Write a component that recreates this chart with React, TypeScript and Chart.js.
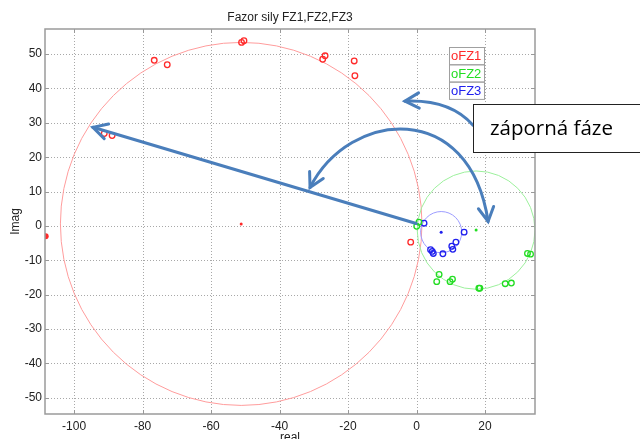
import React, { useEffect, useRef } from "react";
import { Chart, registerables } from "chart.js";
Chart.register(...registerables);

const xTicks = [-100, -80, -60, -40, -20, 0, 20];
const yTicks = [-50, -40, -30, -20, -10, 0, 10, 20, 30, 40, 50];

const fz1Real = [-76.6, -72.8, -51.1, -50.4, -27.4, -26.7, -18.2, -18.0, -91.2, -88.9, -1.7];
const fz1Imag = [48.2, 46.9, 53.4, 53.9, 48.5, 49.5, 48.0, 43.7, 26.9, 26.3, -4.7];
const fz2Real = [0.7, 0.05, 6.6, 5.9, 9.8, 10.5, 18.2, 18.5, 25.9, 27.7, 32.4, 33.3];
const fz2Imag = [1.1, -0.1, -14.1, -16.2, -16.2, -15.5, -18.1, -18.1, -16.8, -16.6, -8.0, -8.2];
const fz3Real = [2.2, 13.9, 11.5, 10.3, 10.6, 7.7, 4.1, 4.6, 4.9];
const fz3Imag = [0.8, -1.8, -4.7, -5.9, -6.8, -8.1, -6.9, -7.4, -8.0];
const centerReal = [-51.2, 17.4, 7.2];
const centerImag = [0.6, -1.2, -1.8];
const circleRadius = [52.8, 17.2, 6.0];
const edgeReal = [-108.3];
const edgeImag = [-3.0];
const seriesNames = ["oFZ1", "oFZ2", "oFZ3"];
const titleText = "Fazor sily FZ1,FZ2,FZ3";
const xLabel = "real";
const yLabel = "Imag";
const noteText = "záporná fáze";

// annotation arrows in data coordinates
const arrowStraight = [[-0.1, 0.7], [-94.5, 28.7]];
const arcBig = [[-31.1, 11.2], [-19.4, 34.0], [15.6, 36.9], [20.9, 1.3]];
const arcSmall = [[16.5, 29.3], [9.8, 36.9], [-3.4, 36.3]];

const markerColors = ["#ff2a2a", "#22dd22", "#2020ee"];
const circleColors = ["#ff9c9c", "#9cf09c", "#9c9cff"];

const pts = (xs: number[], ys: number[]) => xs.map((x, i) => ({ x, y: ys[i] }));

const FONT = "'Liberation Sans', Arial, sans-serif";

const decor = {
  id: "decor",
  beforeDatasetsDraw(chart: any) {
    const { ctx, chartArea: a, scales } = chart;
    const sx = (v: number) => scales.x.getPixelForValue(v);
    const sy = (v: number) => scales.y.getPixelForValue(v);
    ctx.save();
    ctx.strokeStyle = "#a8a8a8";
    ctx.lineWidth = 1;
    ctx.setLineDash([1, 2]);
    xTicks.forEach((v) => {
      const p = Math.round(sx(v)) + 0.5;
      ctx.beginPath(); ctx.moveTo(p, a.top); ctx.lineTo(p, a.bottom); ctx.stroke();
    });
    yTicks.forEach((v) => {
      const p = Math.round(sy(v)) + 0.5;
      ctx.beginPath(); ctx.moveTo(a.left, p); ctx.lineTo(a.right, p); ctx.stroke();
    });
    ctx.setLineDash([]);
    ctx.strokeStyle = "#999";
    xTicks.forEach((v) => {
      const p = Math.round(sx(v)) + 0.5;
      ctx.beginPath(); ctx.moveTo(p, a.top); ctx.lineTo(p, a.top + 4); ctx.stroke();
      ctx.beginPath(); ctx.moveTo(p, a.bottom); ctx.lineTo(p, a.bottom - 4); ctx.stroke();
    });
    yTicks.forEach((v) => {
      const p = Math.round(sy(v)) + 0.5;
      ctx.beginPath(); ctx.moveTo(a.left, p); ctx.lineTo(a.left + 4, p); ctx.stroke();
      ctx.beginPath(); ctx.moveTo(a.right, p); ctx.lineTo(a.right - 4, p); ctx.stroke();
    });
    ctx.beginPath();
    ctx.rect(a.left, a.top, a.right - a.left, a.bottom - a.top);
    ctx.clip();
    centerReal.forEach((cx, i) => {
      const px = sx(cx), py = sy(centerImag[i]);
      const rx = Math.abs(sx(cx + circleRadius[i]) - px);
      const ry = Math.abs(sy(centerImag[i] + circleRadius[i]) - py);
      ctx.strokeStyle = circleColors[i];
      ctx.lineWidth = 1;
      ctx.beginPath();
      ctx.ellipse(px, py, rx, ry, 0, 0, Math.PI * 2);
      ctx.stroke();
    });
    ctx.restore();
  },
  afterDraw(chart: any) {
    const { ctx, chartArea: a, scales } = chart;
    const sx = (v: number) => scales.x.getPixelForValue(v);
    const sy = (v: number) => scales.y.getPixelForValue(v);
    const P = (p: number[]) => [sx(p[0]), sy(p[1])];
    ctx.save();
    ctx.strokeStyle = "#9a9a9a";
    ctx.lineWidth = 1.5;
    ctx.strokeRect(a.left, a.top, a.right - a.left, a.bottom - a.top);

    ctx.fillStyle = "#222";
    ctx.font = `12px ${FONT}`;
    ctx.textAlign = "center";
    ctx.textBaseline = "middle";
    ctx.fillText(titleText, (a.left + a.right) / 2, 18);
    ctx.fillText(xLabel, (a.left + a.right) / 2, 438);
    ctx.save();
    ctx.translate(16, (a.top + a.bottom) / 2);
    ctx.rotate(-Math.PI / 2);
    ctx.fillText(yLabel, 0, 0);
    ctx.restore();

    const lx = 449, ly = 47, lw = 35, rh = 17.3;
    ctx.fillStyle = "#fff";
    ctx.fillRect(lx, ly, lw, rh * 3);
    ctx.strokeStyle = "#a0a0a0";
    ctx.lineWidth = 1;
    ctx.font = `13px ${FONT}`;
    ctx.textAlign = "left";
    seriesNames.forEach((n, i) => {
      ctx.strokeRect(lx + 0.5, ly + i * rh + 0.5, lw, rh);
      ctx.fillStyle = markerColors[i];
      ctx.fillText(n, lx + 2, ly + i * rh + rh / 2 + 1);
    });

    const col = "#4a7ebb";
    ctx.strokeStyle = col;
    ctx.lineWidth = 3;
    ctx.lineCap = "round";
    const head = (tip: number[], from: number[]) => {
      const ang = Math.atan2(from[1] - tip[1], from[0] - tip[0]);
      const L = 16, s = 0.5;
      ctx.beginPath();
      ctx.moveTo(tip[0] + L * Math.cos(ang - s), tip[1] + L * Math.sin(ang - s));
      ctx.lineTo(tip[0], tip[1]);
      ctx.lineTo(tip[0] + L * Math.cos(ang + s), tip[1] + L * Math.sin(ang + s));
      ctx.stroke();
    };
    const s0 = P(arrowStraight[0]), s1 = P(arrowStraight[1]);
    ctx.beginPath(); ctx.moveTo(s0[0], s0[1]); ctx.lineTo(s1[0], s1[1]); ctx.stroke();
    head(s1, s0);

    const b = arcBig.map(P);
    ctx.beginPath();
    ctx.moveTo(b[0][0], b[0][1]);
    ctx.bezierCurveTo(b[1][0], b[1][1], b[2][0], b[2][1], b[3][0], b[3][1]);
    ctx.stroke();
    head(b[0], b[1]);
    head(b[3], b[2]);

    const c = arcSmall.map(P);
    ctx.beginPath();
    ctx.moveTo(c[0][0], c[0][1]);
    ctx.quadraticCurveTo(c[1][0], c[1][1], c[2][0], c[2][1]);
    ctx.stroke();
    head(c[2], c[1]);

    ctx.fillStyle = "#fff";
    ctx.fillRect(473, 104, 180, 49);
    ctx.strokeStyle = "#222";
    ctx.lineWidth = 1;
    ctx.strokeRect(473.5, 104.5, 180, 48);
    ctx.fillStyle = "#000";
    ctx.font = "20.5px 'Open Sans', Lato, sans-serif";
    ctx.textAlign = "left";
    ctx.textBaseline = "alphabetic";
    ctx.fillText(noteText, 490, 135);
    ctx.restore();
  },
};

export default function App() {
  const ref = useRef<HTMLCanvasElement>(null);
  useEffect(() => {
    const canvas = ref.current!;
    const tickFont = { family: FONT, size: 12 };
    const chart = new Chart(canvas, {
      type: "scatter",
      data: {
        datasets: [
          { label: seriesNames[0], data: pts(fz1Real, fz1Imag), borderColor: markerColors[0], backgroundColor: "rgba(0,0,0,0)", pointRadius: 2.8, borderWidth: 1.3 },
          { label: seriesNames[1], data: pts(fz2Real, fz2Imag), borderColor: markerColors[1], backgroundColor: "rgba(0,0,0,0)", pointRadius: 2.8, borderWidth: 1.3 },
          { label: seriesNames[2], data: pts(fz3Real, fz3Imag), borderColor: markerColors[2], backgroundColor: "rgba(0,0,0,0)", pointRadius: 2.8, borderWidth: 1.3 },
          { label: "centers", data: pts(centerReal, centerImag), backgroundColor: markerColors, borderColor: markerColors, pointRadius: 1.5, borderWidth: 0 },
          { label: "edge", data: pts(edgeReal, edgeImag), backgroundColor: markerColors[0], borderColor: markerColors[0], pointRadius: 3, borderWidth: 0 },
        ] as any,
      },
      options: {
        animation: false,
        responsive: false,
        devicePixelRatio: 1,
        layout: { padding: { left: 0, top: 29, right: 105, bottom: 0 } },
        plugins: { legend: { display: false }, tooltip: { enabled: false }, title: { display: false } },
        scales: {
          x: {
            type: "linear",
            min: -108.5,
            max: 34.6,
            afterBuildTicks: (s: any) => { s.ticks = xTicks.map((v) => ({ value: v })); },
            afterFit: (s: any) => { s.height = 25; },
            grid: { display: false, drawTicks: false },
            border: { display: false },
            ticks: { padding: 5, color: "#222", font: tickFont, maxRotation: 0, autoSkip: false },
          },
          y: {
            type: "linear",
            min: -54.7,
            max: 57.3,
            afterBuildTicks: (s: any) => { s.ticks = yTicks.map((v) => ({ value: v })); },
            afterFit: (s: any) => { s.width = 45; },
            grid: { display: false, drawTicks: false },
            border: { display: false },
            ticks: { padding: 3, color: "#222", font: tickFont, autoSkip: false },
          },
        },
      } as any,
      plugins: [decor],
    });
    return () => chart.destroy();
  }, []);
  return (
    <div style={{ position: "fixed", left: 0, top: 0, width: 640, height: 439, background: "#fff" }}>
      <canvas ref={ref} width={640} height={439} />
    </div>
  );
}
